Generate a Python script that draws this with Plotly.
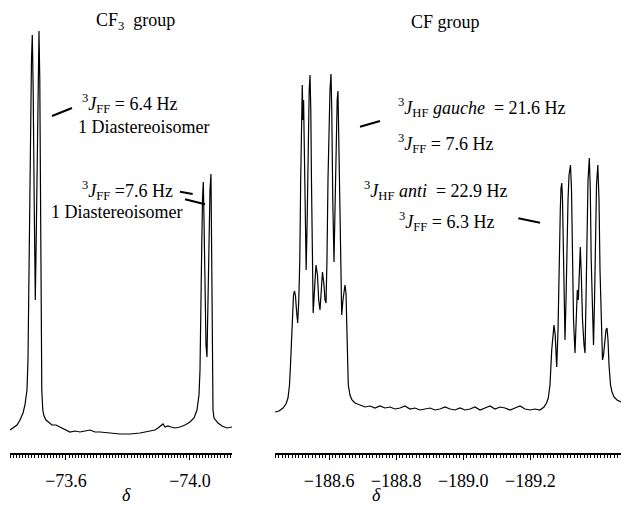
import numpy as np
import plotly.graph_objects as go

# ---- CF3 group spectrum (chemical shift in ppm, intensity in arbitrary units) ----
cf3_shift = [-73.4194, -73.4290, -73.4419, -73.4516, -73.4613, -73.4677, -73.4742, -73.4774,
             -73.4797, -73.4823, -73.4855, -73.4887, -73.4913, -73.4942, -73.4974, -73.5010,
             -73.5039, -73.5074, -73.5106, -73.5129, -73.5155, -73.5177, -73.5200, -73.5219,
             -73.5252, -73.5290, -73.5355, -73.5419, -73.5548, -73.5677, -73.5806, -73.5968,
             -73.6129, -73.6290, -73.6452, -73.6613, -73.6774, -73.6935, -73.7097, -73.7419,
             -73.7742, -73.8065, -73.8387, -73.8710, -73.8871, -73.8968, -73.9065, -73.9129,
             -73.9194, -73.9290, -73.9387, -73.9516, -73.9677, -73.9839, -74.0000, -74.0129,
             -74.0226, -74.0290, -74.0323, -74.0355, -74.0377, -74.0403, -74.0429, -74.0452,
             -74.0484, -74.0516, -74.0548, -74.0581, -74.0613, -74.0645, -74.0677, -74.0703,
             -74.0723, -74.0742, -74.0774, -74.0903, -74.1032, -74.1194, -74.1355]
cf3_int = [23, 25, 28, 33, 40, 48, 63, 93, 153, 233, 333, 393, 418, 363, 253, 153, 213, 323,
           393, 422, 373, 253, 133, 63, 43, 37, 33, 31, 28, 28, 26, 23, 21, 22, 21, 22, 23, 21,
           21, 20, 19, 19, 20, 22, 23, 25, 27, 29, 26, 27, 26, 25, 26, 28, 31, 35, 43, 58, 83,
           133, 203, 253, 271, 233, 153, 108, 96, 153, 223, 263, 279, 203, 103, 43, 35, 30, 27,
           25, 26]

# ---- CF group spectrum ----
cf_shift = [-188.4388, -188.4507, -188.4626, -188.4715, -188.4775, -188.4820, -188.4850, -188.4879,
            -188.4909, -188.4939, -188.4969, -188.4998, -188.5028, -188.5064, -188.5097, -188.5127,
            -188.5154, -188.5177, -188.5201, -188.5222, -188.5240, -188.5258, -188.5288, -188.5317,
            -188.5347, -188.5377, -188.5407, -188.5431, -188.5455, -188.5475, -188.5499, -188.5526,
            -188.5565, -188.5610, -188.5654, -188.5690, -188.5729, -188.5765, -188.5803, -188.5848,
            -188.5878, -188.5908, -188.5937, -188.5967, -188.5997, -188.6027, -188.6057, -188.6080,
            -188.6110, -188.6146, -188.6182, -188.6212, -188.6241, -188.6265, -188.6289, -188.6319,
            -188.6349, -188.6376, -188.6414, -188.6444, -188.6474, -188.6504, -188.6534, -188.6572,
            -188.6623, -188.6683, -188.6772, -188.6921, -188.7070, -188.7219, -188.7368, -188.7517,
            -188.7666, -188.7815, -188.7964, -188.8113, -188.8262, -188.8411, -188.8560, -188.8709,
            -188.8858, -188.9007, -188.9156, -188.9306, -188.9455, -188.9604, -188.9753, -188.9902,
            -189.0051, -189.0200, -189.0349, -189.0498, -189.0647, -189.0796, -189.0945, -189.1094,
            -189.1243, -189.1392, -189.1541, -189.1690, -189.1839, -189.1988, -189.2137, -189.2286,
            -189.2405, -189.2480, -189.2533, -189.2584, -189.2635, -189.2674, -189.2703, -189.2739,
            -189.2784, -189.2823, -189.2852, -189.2891, -189.2912, -189.2936, -189.2957, -189.2981,
            -189.3007, -189.3031, -189.3061, -189.3091, -189.3121, -189.3151, -189.3195, -189.3225,
            -189.3255, -189.3285, -189.3329, -189.3368, -189.3398, -189.3428, -189.3458, -189.3487,
            -189.3517, -189.3553, -189.3598, -189.3627, -189.3657, -189.3687, -189.3717, -189.3756,
            -189.3785, -189.3812, -189.3845, -189.3881, -189.3911, -189.3940, -189.3970, -189.4009,
            -189.4045, -189.4074, -189.4110, -189.4149, -189.4179, -189.4218, -189.4253, -189.4283,
            -189.4313, -189.4343, -189.4387, -189.4432, -189.4492, -189.4581, -189.4700]
cf_int = [41, 42, 45, 49, 55, 68, 88, 113, 143, 158, 162, 157, 143, 130, 153, 193, 273, 343, 368,
          333, 353, 313, 223, 183, 233, 313, 363, 378, 343, 273, 183, 140, 163, 188, 178, 153, 143,
          163, 181, 168, 153, 150, 193, 273, 333, 363, 379, 343, 253, 191, 253, 323, 353, 362, 313,
          223, 153, 138, 153, 165, 168, 160, 123, 68, 58, 53, 50, 48, 46, 47, 45, 47, 45, 46, 44,
          45, 47, 44, 45, 43, 44, 45, 43, 44, 46, 44, 43, 45, 43, 44, 46, 43, 45, 47, 44, 46, 45,
          43, 45, 47, 44, 43, 44, 43, 46, 50, 55, 68, 103, 123, 128, 118, 86, 123, 193, 243, 265,
          270, 253, 203, 143, 113, 153, 213, 253, 278, 288, 263, 193, 133, 100, 133, 163, 153, 193,
          206, 178, 133, 108, 100, 153, 223, 273, 295, 263, 193, 133, 108, 153, 223, 268, 288, 253,
          183, 123, 93, 98, 113, 123, 125, 113, 88, 68, 61, 56, 53, 51]

# ---- axis tick labels ----
cf3_tick_vals = [-73.6, -74.0]
cf3_tick_text = ["\u221273.6", "\u221274.0"]
cf_tick_vals = [-188.6, -188.8, -189.0, -189.2]
cf_tick_text = ["\u2212188.6", "\u2212188.8", "\u2212189.0", "\u2212189.2"]

W, H = 621, 506
PLOT_H = 453
SERIF = "Liberation Serif, Times New Roman, serif"


def px(x):
    return x / W


def py(y):
    return (PLOT_H - y) / PLOT_H


fig = go.Figure()
fig.add_trace(go.Scatter(x=cf3_shift, y=cf3_int, mode="lines", xaxis="x", yaxis="y",
                         line=dict(color="black", width=1.2), showlegend=False))
fig.add_trace(go.Scatter(x=cf_shift, y=cf_int, mode="lines", xaxis="x2", yaxis="y",
                         line=dict(color="black", width=1.2), showlegend=False))

axis_common = dict(
    showline=True, linecolor="black", linewidth=1.6, mirror=False,
    ticks="outside", ticklen=5, tickwidth=1, tickcolor="black",
    showgrid=False, zeroline=False, tickmode="array",
    tickfont=dict(family=SERIF, size=18, color="black"),
    ticklabelstandoff=6, fixedrange=True,
)

fig.update_layout(
    width=W, height=H,
    margin=dict(l=0, r=0, t=0, b=H - PLOT_H, pad=0),
    paper_bgcolor="white", plot_bgcolor="white",
    xaxis=dict(domain=[10 / W, 232 / W], range=[-73.4194, -74.1355],
               tickvals=cf3_tick_vals, ticktext=cf3_tick_text, anchor="y",
               minor=dict(tickmode="array", tickvals=list(np.round(np.arange(-74.13, -73.415, 0.01), 3)),
                          ticklen=3, tickcolor="black", tickwidth=1, ticks="outside", showgrid=False),
               **axis_common),
    xaxis2=dict(domain=[275 / W, 1.0], range=[-188.4388, -189.4700],
                tickvals=cf_tick_vals, ticktext=cf_tick_text, anchor="y",
                minor=dict(tickmode="array", tickvals=list(np.round(np.arange(-189.47, -188.435, 0.01), 3)),
                           ticklen=3, tickcolor="black", tickwidth=1, ticks="outside", showgrid=False),
                **axis_common),
    yaxis=dict(domain=[0, 1], range=[0, PLOT_H], visible=False, fixedrange=True),
    showlegend=False,
)

ann_font = dict(family=SERIF, size=18, color="black")
annotations = [
    dict(text="CF<sub>3</sub>  group", x=px(135), y=py(21)),
    dict(text="CF group", x=px(445), y=py(22)),
    dict(text="<sup>3</sup><i>J</i><sub>FF</sub> = 6.4 Hz", x=px(80), y=py(103), xanchor="left"),
    dict(text="1 Diastereoisomer", x=px(76), y=py(127), xanchor="left"),
    dict(text="<sup>3</sup><i>J</i><sub>FF</sub> =7.6 Hz", x=px(80), y=py(190), xanchor="left"),
    dict(text="1 Diastereoisomer", x=px(49), y=py(212), xanchor="left"),
    dict(text="<sup>3</sup><i>J</i><sub>HF</sub> <i>gauche</i>  = 21.6 Hz", x=px(396), y=py(107), xanchor="left"),
    dict(text="<sup>3</sup><i>J</i><sub>FF</sub> = 7.6 Hz", x=px(396), y=py(144), xanchor="left"),
    dict(text="<sup>3</sup><i>J</i><sub>HF</sub> <i>anti</i>  = 22.9 Hz", x=px(362), y=py(190), xanchor="left"),
    dict(text="<sup>3</sup><i>J</i><sub>FF</sub> = 6.3 Hz", x=px(397), y=py(222), xanchor="left"),
]
for a in annotations:
    a.setdefault("xanchor", "center")
    fig.add_annotation(xref="paper", yref="paper", showarrow=False, yanchor="middle",
                       font=ann_font, **a)

for xd in (126, 376):
    fig.add_annotation(xref="paper", yref="paper", showarrow=False, text="<i>δ</i>",
                       x=px(xd), y=py(506), xanchor="center", yanchor="bottom", borderpad=0,
                       font=dict(family=SERIF, size=18, color="black"))

leaders = [
    ((52, 116), (72, 108)),
    ((180, 191.7), (192.7, 194)),
    ((185, 199.3), (205, 204.3)),
    ((360, 126.7), (380, 121)),
    ((518.3, 218.3), (540, 222.7)),
]
for (x0, y0), (x1, y1) in leaders:
    fig.add_shape(type="line", xref="paper", yref="paper",
                  x0=px(x0), y0=py(y0), x1=px(x1), y1=py(y1),
                  line=dict(color="black", width=2))

fig.write_html("out.html", config={"displayModeBar": False},
               post_script="document.body.style.margin='0';")
